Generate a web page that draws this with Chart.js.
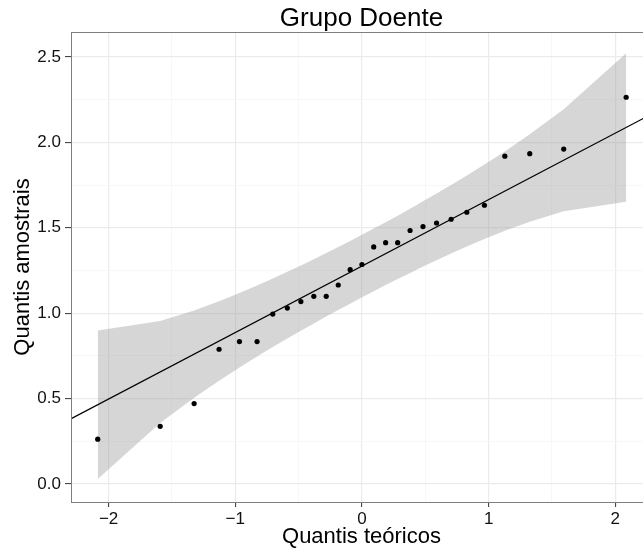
<!DOCTYPE html>
<html>
<head>
  <title>Grupo Doente</title>
  <style>
    body {
      margin: 0;
      padding: 0;
      background-color: #ffffff;
      overflow: hidden;
    }
    #qq_chart {
      display: block;
    }
  </style>
  <script src="https://cdn.jsdelivr.net/npm/chart.js"></script>
</head>
<body>
  <canvas id="qq_chart" width="660" height="551"></canvas>

  <script>
    // quantis teóricos da normal (n = 27) e quantis amostrais
    var theoQ = [-2.086, -1.593, -1.325, -1.128, -0.967, -0.828, -0.704, -0.589, -0.482,
                 -0.380, -0.282, -0.187, -0.093, 0, 0.093, 0.187, 0.282, 0.380,
                 0.482, 0.589, 0.704, 0.828, 0.967, 1.128, 1.325, 1.593, 2.086];
    var sampleQ = [0.263, 0.338, 0.471, 0.789, 0.834, 0.834, 0.995, 1.030, 1.068,
                   1.099, 1.099, 1.165, 1.255, 1.285, 1.388, 1.413, 1.413, 1.484,
                   1.507, 1.528, 1.550, 1.591, 1.632, 1.919, 1.934, 1.961, 2.264];

    // banda de confiança (limites inferior e superior em cada quantil)
    var bandLower = [0.030, 0.358, 0.505, 0.605, 0.682, 0.746, 0.802, 0.852, 0.898,
                     0.940, 0.981, 1.019, 1.056, 1.093, 1.129, 1.165, 1.200, 1.236,
                     1.273, 1.310, 1.349, 1.390, 1.434, 1.482, 1.536, 1.597, 1.653];
    var bandUpper = [0.899, 0.955, 1.016, 1.070, 1.118, 1.162, 1.203, 1.242, 1.280,
                     1.316, 1.352, 1.388, 1.423, 1.459, 1.496, 1.533, 1.571, 1.612,
                     1.655, 1.700, 1.751, 1.806, 1.870, 1.947, 2.047, 2.194, 2.522];

    // reta de referência
    var lineX = [-2.4, 2.4];
    var lineY = [0.342, 2.210];

    var xBreaks = [-2, -1, 0, 1, 2];
    var xLabels = ['\u22122', '\u22121', '0', '1', '2'];
    var xMinor = [-1.5, -0.5, 0.5, 1.5];
    var yBreaks = [0, 0.5, 1, 1.5, 2, 2.5];
    var yLabels = ['0.0', '0.5', '1.0', '1.5', '2.0', '2.5'];
    var yMinor = [0.25, 0.75, 1.25, 1.75, 2.25];

    var FONT = '"Liberation Sans", Arial, sans-serif';

    function toPoints(xs, ys) {
      return xs.map(function (x, i) { return {x: x, y: ys[i]}; });
    }

    function tickList(major, minor) {
      return major.concat(minor)
        .sort(function (a, b) { return a - b; })
        .map(function (v) { return {value: v}; });
    }

    function isMajor(list, v) {
      return list.indexOf(v) !== -1;
    }

    // moldura do painel e título
    var panelFrame = {
      id: 'panelFrame',
      afterDatasetsDraw: function (chart) {
        var ctx = chart.ctx;
        var a = chart.chartArea;
        ctx.save();
        ctx.strokeStyle = '#7f7f7f';
        ctx.lineWidth = 1;
        ctx.strokeRect(a.left + 0.5, a.top + 0.5, a.right - a.left - 1, a.bottom - a.top);
        ctx.restore();
      },
      afterDraw: function (chart) {
        var ctx = chart.ctx;
        var a = chart.chartArea;
        ctx.save();
        ctx.font = '26px ' + FONT;
        ctx.fillStyle = '#000000';
        ctx.textAlign = 'center';
        ctx.textBaseline = 'alphabetic';
        ctx.fillText('Grupo Doente', (a.left + a.right) / 2, 26);
        ctx.restore();
      }
    };

    var qqChart = new Chart(document.getElementById('qq_chart'), {
      type: 'line',
      data: {
        datasets: [{
          label: 'amostra',
          data: toPoints(theoQ, sampleQ),
          showLine: false,
          pointRadius: 2.6,
          pointBorderWidth: 0,
          pointBackgroundColor: '#000000',
          pointBorderColor: '#000000',
          order: 0
        }, {
          label: 'reta',
          data: toPoints(lineX, lineY),
          borderColor: '#000000',
          borderWidth: 1.2,
          pointRadius: 0,
          fill: false,
          order: 1
        }, {
          label: 'banda superior',
          data: toPoints(theoQ, bandUpper),
          borderColor: 'rgba(0,0,0,0)',
          borderWidth: 0,
          pointRadius: 0,
          backgroundColor: 'rgba(153,153,153,0.4)',
          fill: '+1',
          tension: 0,
          order: 2
        }, {
          label: 'banda inferior',
          data: toPoints(theoQ, bandLower),
          borderColor: 'rgba(0,0,0,0)',
          borderWidth: 0,
          pointRadius: 0,
          fill: false,
          tension: 0,
          order: 3
        }]
      },
      options: {
        responsive: false,
        animation: false,
        events: [],
        layout: {
          padding: {top: 32, right: 8, bottom: 0, left: 0}
        },
        plugins: {
          legend: {display: false},
          tooltip: {enabled: false},
          title: {display: false}
        },
        scales: {
          x: {
            type: 'linear',
            min: -2.297,
            max: 2.29,
            afterBuildTicks: function (axis) { axis.ticks = tickList(xBreaks, xMinor); },
            afterFit: function (axis) { axis.height = 49; },
            border: {display: false},
            grid: {
              color: function (c) { return isMajor(xBreaks, c.tick.value) ? '#ebebeb' : '#f7f7f7'; },
              lineWidth: function (c) { return isMajor(xBreaks, c.tick.value) ? 1.2 : 1; },
              tickColor: function (c) { return isMajor(xBreaks, c.tick.value) ? '#333333' : 'rgba(0,0,0,0)'; },
              tickLength: 5,
              tickWidth: 1
            },
            ticks: {
              autoSkip: false,
              maxRotation: 0,
              padding: 2,
              color: '#111111',
              font: {family: FONT, size: 17},
              callback: function (v) {
                var i = xBreaks.indexOf(v);
                return i === -1 ? '' : xLabels[i];
              }
            },
            title: {
              display: true,
              text: 'Quantis teóricos',
              color: '#000000',
              font: {family: FONT, size: 22},
              padding: {top: 0, bottom: 1}
            }
          },
          y: {
            type: 'linear',
            min: -0.105,
            max: 2.646,
            afterBuildTicks: function (axis) { axis.ticks = tickList(yBreaks, yMinor); },
            afterFit: function (axis) { axis.width = 71; },
            border: {display: false},
            grid: {
              color: function (c) { return isMajor(yBreaks, c.tick.value) ? '#ebebeb' : '#f7f7f7'; },
              lineWidth: function (c) { return isMajor(yBreaks, c.tick.value) ? 1.2 : 1; },
              tickColor: function (c) { return isMajor(yBreaks, c.tick.value) ? '#333333' : 'rgba(0,0,0,0)'; },
              tickLength: 6,
              tickWidth: 1
            },
            ticks: {
              autoSkip: false,
              padding: 4,
              color: '#111111',
              font: {family: FONT, size: 17},
              callback: function (v) {
                var i = yBreaks.indexOf(v);
                return i === -1 ? '' : yLabels[i];
              }
            },
            title: {
              display: true,
              text: 'Quantis amostrais',
              color: '#000000',
              font: {family: FONT, size: 22},
              padding: {top: 10, bottom: 0}
            }
          }
        }
      },
      plugins: [panelFrame]
    });
  </script>
</body>
</html>
